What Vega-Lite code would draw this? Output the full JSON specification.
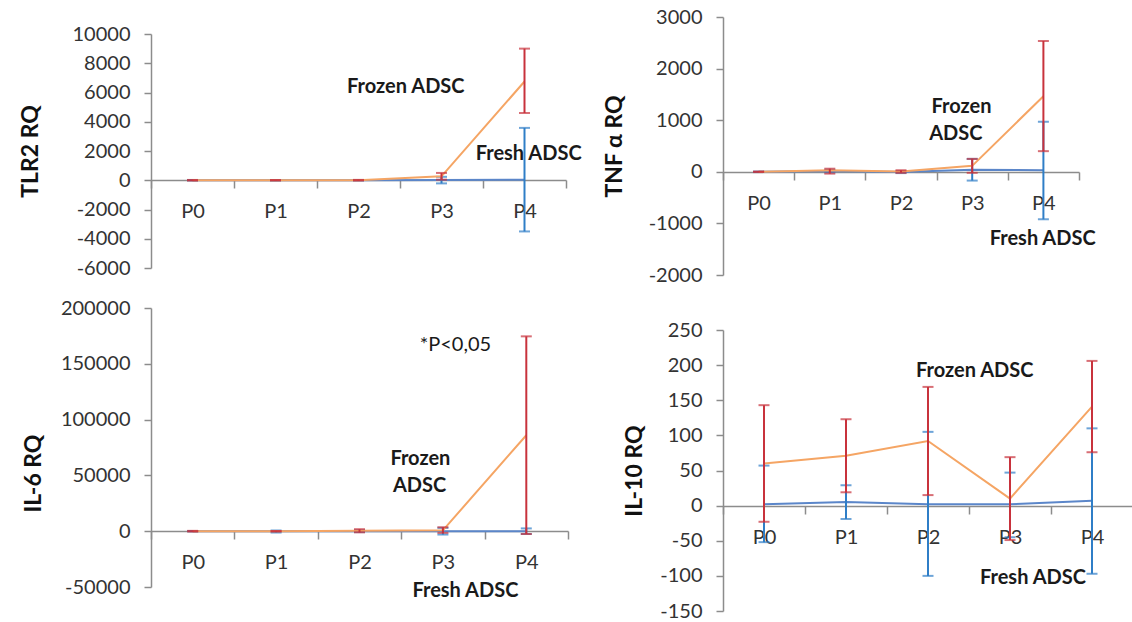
{
  "$schema": "https://vega.github.io/schema/vega-lite/v6.json",
  "background": "white",
  "padding": {"left": 19, "top": 7, "right": 0, "bottom": 0},
  "config": {
    "font": "Lato",
    "view": {"stroke": null},
    "axis": {"domainColor": "#8c8c8c", "domainWidth": 1.5, "tickColor": "#8c8c8c", "tickWidth": 1.5, "labelFont": "Lato", "labelFontSize": 20, "labelColor": "#333333", "titleFont": "Lato", "titleFontSize": 23, "titleFontWeight": "bold", "titleColor": "#111111", "grid": false, "labelOverlap": false, "labelBound": false},
    "axisY": {"tickSize": 7, "labelPadding": 14, "labelOverlap": false},
    "axisX": {"tickSize": 8, "labelPadding": 13, "labelAngle": 0},
    "text": {"font": "Lato", "fontSize": 20, "color": "#1a1a1a"}
  },
  "datasets": {
    "tlr2": [
      {"pass": "P0", "series": "Frozen", "mean": 0, "lo": -20, "hi": 20},
      {"pass": "P1", "series": "Frozen", "mean": 2, "lo": -10, "hi": 14},
      {"pass": "P2", "series": "Frozen", "mean": 5, "lo": -15, "hi": 25},
      {"pass": "P3", "series": "Frozen", "mean": 270, "lo": 40, "hi": 500},
      {"pass": "P4", "series": "Frozen", "mean": 6750, "lo": 4600, "hi": 9000},
      {"pass": "P0", "series": "Fresh", "mean": 0, "lo": -10, "hi": 10},
      {"pass": "P1", "series": "Fresh", "mean": 1, "lo": -5, "hi": 7},
      {"pass": "P2", "series": "Fresh", "mean": 2, "lo": -8, "hi": 12},
      {"pass": "P3", "series": "Fresh", "mean": 10, "lo": -215, "hi": 235},
      {"pass": "P4", "series": "Fresh", "mean": 40, "lo": -3500, "hi": 3580}
    ],
    "tnf": [
      {"pass": "P0", "series": "Frozen", "mean": 0, "lo": -5, "hi": 5},
      {"pass": "P1", "series": "Frozen", "mean": 30, "lo": -35, "hi": 60},
      {"pass": "P2", "series": "Frozen", "mean": 5, "lo": -20, "hi": 30},
      {"pass": "P3", "series": "Frozen", "mean": 115, "lo": -20, "hi": 250},
      {"pass": "P4", "series": "Frozen", "mean": 1465, "lo": 400, "hi": 2535},
      {"pass": "P0", "series": "Fresh", "mean": 0, "lo": -5, "hi": 5},
      {"pass": "P1", "series": "Fresh", "mean": 15, "lo": -10, "hi": 40},
      {"pass": "P2", "series": "Fresh", "mean": -5, "lo": -25, "hi": 15},
      {"pass": "P3", "series": "Fresh", "mean": 40, "lo": -170, "hi": 250},
      {"pass": "P4", "series": "Fresh", "mean": 30, "lo": -920, "hi": 970}
    ],
    "il6": [
      {"pass": "P0", "series": "Frozen", "mean": 0, "lo": -300, "hi": 300},
      {"pass": "P1", "series": "Frozen", "mean": 0, "lo": -200, "hi": 200},
      {"pass": "P2", "series": "Frozen", "mean": 300, "lo": -1000, "hi": 1800},
      {"pass": "P3", "series": "Frozen", "mean": 800, "lo": -1500, "hi": 3500},
      {"pass": "P4", "series": "Frozen", "mean": 86000, "lo": -2500, "hi": 174600},
      {"pass": "P0", "series": "Fresh", "mean": 0, "lo": -100, "hi": 100},
      {"pass": "P1", "series": "Fresh", "mean": 0, "lo": -1200, "hi": 600},
      {"pass": "P2", "series": "Fresh", "mean": 0, "lo": -800, "hi": 800},
      {"pass": "P3", "series": "Fresh", "mean": 0, "lo": -3000, "hi": 3000},
      {"pass": "P4", "series": "Fresh", "mean": 0, "lo": -2500, "hi": 2500}
    ],
    "il10": [
      {"pass": "P0", "series": "Frozen", "mean": 60, "lo": -23, "hi": 143},
      {"pass": "P1", "series": "Frozen", "mean": 71, "lo": 19, "hi": 123},
      {"pass": "P2", "series": "Frozen", "mean": 92, "lo": 15, "hi": 169},
      {"pass": "P3", "series": "Frozen", "mean": 10, "lo": -49, "hi": 69},
      {"pass": "P4", "series": "Frozen", "mean": 141, "lo": 76, "hi": 206},
      {"pass": "P0", "series": "Fresh", "mean": 2, "lo": -52, "hi": 57},
      {"pass": "P1", "series": "Fresh", "mean": 5, "lo": -19, "hi": 29},
      {"pass": "P2", "series": "Fresh", "mean": 2, "lo": -100, "hi": 105},
      {"pass": "P3", "series": "Fresh", "mean": 2, "lo": -45, "hi": 47},
      {"pass": "P4", "series": "Fresh", "mean": 7, "lo": -97, "hi": 110}
    ],
    "notes": [
      {"panel": "TLR2", "label": "Frozen ADSC", "pos": 3.07, "value": 6400, "bold": true},
      {"panel": "TLR2", "label": "Fresh ADSC", "pos": 4.55, "value": 1770, "bold": true},
      {"panel": "TNF", "label": "Frozen", "pos": 3.35, "value": 1258, "bold": true},
      {"panel": "TNF", "label": "ADSC", "pos": 3.27, "value": 723, "bold": true},
      {"panel": "TNF", "label": "Fresh ADSC", "pos": 4.49, "value": -1310, "bold": true},
      {"panel": "IL6", "label": "*P<0,05", "pos": 3.65, "value": 166600, "bold": false},
      {"panel": "IL6", "label": "Frozen", "pos": 3.23, "value": 64760, "bold": true},
      {"panel": "IL6", "label": "ADSC", "pos": 3.22, "value": 40660, "bold": true},
      {"panel": "IL6", "label": "Fresh ADSC", "pos": 3.77, "value": -53900, "bold": true},
      {"panel": "IL10", "label": "Frozen ADSC", "pos": 3.07, "value": 192, "bold": true},
      {"panel": "IL10", "label": "Fresh ADSC", "pos": 3.78, "value": -103, "bold": true}
    ]
  },
  "spacing": 21,
  "hconcat": [
    {
      "spacing": 0,
      "vconcat": [
        {
          "width": 10, "height": 7,
          "data": {"values": []},
          "mark": "point",
          "encoding": {}
        },
        {
          "spacing": 20,
          "vconcat": [
            {
              "width": 415, "height": 234,
              "layer": [
                {
                  "data": {"name": "tlr2"},
                  "encoding": {
                    "x": {"field": "pass", "type": "nominal", "scale": {"type": "band", "paddingInner": 0, "paddingOuter": 0}, "axis": {"title": null, "offset": -88, "tickBand": "extent"}}
                  },
                  "layer": [
                    {"transform": [{"filter": "datum.series === 'Fresh'"}], "mark": {"type": "line", "color": "#5B86C9", "strokeWidth": 2}, "encoding": {"y": {"field": "mean", "type": "quantitative", "title": "TLR2 RQ", "scale": {"domain": [-6000, 10000], "nice": false, "zero": false}, "axis": {"values": [-6000, -4000, -2000, 0, 2000, 4000, 6000, 8000, 10000], "tickCount": 20, "labelExpr": "'' + datum.value", "titlePadding": 30, "labelOverlap": false}}}},
                    {"transform": [{"filter": "datum.series === 'Fresh'"}], "mark": {"type": "errorbar", "color": "#2F7EC7", "thickness": 2, "ticks": {"size": 11}}, "encoding": {"y": {"field": "lo", "type": "quantitative", "title": "TLR2 RQ", "axis": {"tickCount": 20, "labelOverlap": false}}, "y2": {"field": "hi"}}},
                    {"transform": [{"filter": "datum.series === 'Frozen'"}], "mark": {"type": "line", "color": "#F5A564", "strokeWidth": 2}, "encoding": {"y": {"field": "mean", "type": "quantitative", "title": "TLR2 RQ", "axis": {"tickCount": 20, "labelOverlap": false}}}},
                    {"transform": [{"filter": "datum.series === 'Frozen'"}], "mark": {"type": "errorbar", "color": "#C8323C", "thickness": 2, "ticks": {"size": 11}}, "encoding": {"y": {"field": "lo", "type": "quantitative", "title": "TLR2 RQ", "axis": {"tickCount": 20, "labelOverlap": false}}, "y2": {"field": "hi"}}}
                  ]
                },
                {
                  "data": {"name": "notes"},
                  "transform": [{"filter": "datum.panel === 'TLR2'"}],
                  "mark": {"type": "text", "fontWeight": "bold"},
                  "encoding": {
                    "x": {"field": "pos", "type": "quantitative", "scale": {"domain": [0, 5], "nice": false, "zero": false}, "axis": null},
                    "y": {"field": "value", "type": "quantitative", "title": "TLR2 RQ", "axis": {"tickCount": 20, "labelOverlap": false}},
                    "text": {"field": "label"}
                  }
                }
              ],
              "resolve": {"scale": {"x": "independent"}}
            },
            {
              "width": 417, "height": 279,
              "layer": [
                {
                  "data": {"name": "il6"},
                  "encoding": {
                    "x": {"field": "pass", "type": "nominal", "scale": {"type": "band", "paddingInner": 0, "paddingOuter": 0}, "axis": {"title": null, "offset": -56, "tickBand": "extent"}}
                  },
                  "layer": [
                    {"transform": [{"filter": "datum.series === 'Fresh'"}], "mark": {"type": "line", "color": "#5B86C9", "strokeWidth": 2}, "encoding": {"y": {"field": "mean", "type": "quantitative", "title": "IL-6  RQ", "scale": {"domain": [-50000, 200000], "nice": false, "zero": false}, "axis": {"values": [-50000, 0, 50000, 100000, 150000, 200000], "tickCount": 20, "labelExpr": "'' + datum.value", "titlePadding": 15, "titleY": 165, "labelOverlap": false}}}},
                    {"transform": [{"filter": "datum.series === 'Fresh'"}], "mark": {"type": "errorbar", "color": "#2F7EC7", "thickness": 2, "ticks": {"size": 11}}, "encoding": {"y": {"field": "lo", "type": "quantitative", "title": "IL-6  RQ", "axis": {"tickCount": 20, "labelOverlap": false}}, "y2": {"field": "hi"}}},
                    {"transform": [{"filter": "datum.series === 'Frozen'"}], "mark": {"type": "line", "color": "#F5A564", "strokeWidth": 2}, "encoding": {"y": {"field": "mean", "type": "quantitative", "title": "IL-6  RQ", "axis": {"tickCount": 20, "labelOverlap": false}}}},
                    {"transform": [{"filter": "datum.series === 'Frozen'"}], "mark": {"type": "errorbar", "color": "#C8323C", "thickness": 2, "ticks": {"size": 11}}, "encoding": {"y": {"field": "lo", "type": "quantitative", "title": "IL-6  RQ", "axis": {"tickCount": 20, "labelOverlap": false}}, "y2": {"field": "hi"}}}
                  ]
                },
                {
                  "data": {"name": "notes"},
                  "transform": [{"filter": "datum.panel === 'IL6' && datum.bold"}],
                  "mark": {"type": "text", "fontWeight": "bold"},
                  "encoding": {
                    "x": {"field": "pos", "type": "quantitative", "scale": {"domain": [0, 5], "nice": false, "zero": false}, "axis": null},
                    "y": {"field": "value", "type": "quantitative", "title": "IL-6  RQ", "axis": {"tickCount": 20, "labelOverlap": false}},
                    "text": {"field": "label"}
                  }
                },
                {
                  "data": {"name": "notes"},
                  "transform": [{"filter": "datum.panel === 'IL6' && !datum.bold"}],
                  "mark": {"type": "text", "fontWeight": "normal"},
                  "encoding": {
                    "x": {"field": "pos", "type": "quantitative", "scale": {"domain": [0, 5], "nice": false, "zero": false}, "axis": null},
                    "y": {"field": "value", "type": "quantitative", "title": "IL-6  RQ", "axis": {"tickCount": 20, "labelOverlap": false}},
                    "text": {"field": "label"}
                  }
                }
              ],
              "resolve": {"scale": {"x": "independent"}}
            }
          ]
        }
      ]
    },
    {
      "spacing": 35,
      "vconcat": [
        {
          "width": 356, "height": 258,
          "layer": [
            {
              "data": {"name": "tnf"},
              "encoding": {
                "x": {"field": "pass", "type": "nominal", "scale": {"type": "band", "paddingInner": 0, "paddingOuter": 0}, "axis": {"title": null, "offset": -103, "tickBand": "extent"}}
              },
              "layer": [
                {"transform": [{"filter": "datum.series === 'Fresh'"}], "mark": {"type": "line", "color": "#5B86C9", "strokeWidth": 2}, "encoding": {"y": {"field": "mean", "type": "quantitative", "title": "TNF α  RQ", "scale": {"domain": [-2000, 3000], "nice": false, "zero": false}, "axis": {"values": [-2000, -1000, 0, 1000, 2000, 3000], "tickCount": 20, "labelExpr": "'' + datum.value", "titlePadding": 22, "labelOverlap": false}}}},
                {"transform": [{"filter": "datum.series === 'Fresh'"}], "mark": {"type": "errorbar", "color": "#2F7EC7", "thickness": 2, "ticks": {"size": 11}}, "encoding": {"y": {"field": "lo", "type": "quantitative", "title": "TNF α  RQ", "axis": {"tickCount": 20, "labelOverlap": false}}, "y2": {"field": "hi"}}},
                {"transform": [{"filter": "datum.series === 'Frozen'"}], "mark": {"type": "line", "color": "#F5A564", "strokeWidth": 2}, "encoding": {"y": {"field": "mean", "type": "quantitative", "title": "TNF α  RQ", "axis": {"tickCount": 20, "labelOverlap": false}}}},
                {"transform": [{"filter": "datum.series === 'Frozen'"}], "mark": {"type": "errorbar", "color": "#C8323C", "thickness": 2, "ticks": {"size": 11}}, "encoding": {"y": {"field": "lo", "type": "quantitative", "title": "TNF α  RQ", "axis": {"tickCount": 20, "labelOverlap": false}}, "y2": {"field": "hi"}}}
              ]
            },
            {
              "data": {"name": "notes"},
              "transform": [{"filter": "datum.panel === 'TNF'"}],
              "mark": {"type": "text", "fontWeight": "bold"},
              "encoding": {
                "x": {"field": "pos", "type": "quantitative", "scale": {"domain": [0, 5], "nice": false, "zero": false}, "axis": null},
                "y": {"field": "value", "type": "quantitative", "title": "TNF α  RQ", "axis": {"tickCount": 20, "labelOverlap": false}},
                "text": {"field": "label"}
              }
            }
          ],
          "resolve": {"scale": {"x": "independent"}}
        },
        {
          "width": 410, "height": 281,
          "layer": [
            {
              "data": {"name": "il10"},
              "encoding": {
                "x": {"field": "pass", "type": "nominal", "scale": {"type": "band", "paddingInner": 0, "paddingOuter": 0}, "axis": {"title": null, "offset": -105, "tickBand": "extent"}}
              },
              "layer": [
                {"transform": [{"filter": "datum.series === 'Fresh'"}], "mark": {"type": "line", "color": "#5B86C9", "strokeWidth": 2}, "encoding": {"y": {"field": "mean", "type": "quantitative", "title": "IL-10  RQ", "scale": {"domain": [-150, 250], "nice": false, "zero": false}, "axis": {"values": [-150, -100, -50, 0, 50, 100, 150, 200, 250], "tickCount": 20, "labelExpr": "'' + datum.value", "titlePadding": 13, "labelOverlap": false}}}},
                {"transform": [{"filter": "datum.series === 'Fresh'"}], "mark": {"type": "errorbar", "color": "#2F7EC7", "thickness": 2, "ticks": {"size": 11}}, "encoding": {"y": {"field": "lo", "type": "quantitative", "title": "IL-10  RQ", "axis": {"tickCount": 20, "labelOverlap": false}}, "y2": {"field": "hi"}}},
                {"transform": [{"filter": "datum.series === 'Frozen'"}], "mark": {"type": "line", "color": "#F5A564", "strokeWidth": 2}, "encoding": {"y": {"field": "mean", "type": "quantitative", "title": "IL-10  RQ", "axis": {"tickCount": 20, "labelOverlap": false}}}},
                {"transform": [{"filter": "datum.series === 'Frozen'"}], "mark": {"type": "errorbar", "color": "#C8323C", "thickness": 2, "ticks": {"size": 11}}, "encoding": {"y": {"field": "lo", "type": "quantitative", "title": "IL-10  RQ", "axis": {"tickCount": 20, "labelOverlap": false}}, "y2": {"field": "hi"}}}
              ]
            },
            {
              "data": {"name": "notes"},
              "transform": [{"filter": "datum.panel === 'IL10'"}],
              "mark": {"type": "text", "fontWeight": "bold"},
              "encoding": {
                "x": {"field": "pos", "type": "quantitative", "scale": {"domain": [0, 5], "nice": false, "zero": false}, "axis": null},
                "y": {"field": "value", "type": "quantitative", "title": "IL-10  RQ", "axis": {"tickCount": 20, "labelOverlap": false}},
                "text": {"field": "label"}
              }
            }
          ],
          "resolve": {"scale": {"x": "independent"}}
        }
      ]
    }
  ]
}
